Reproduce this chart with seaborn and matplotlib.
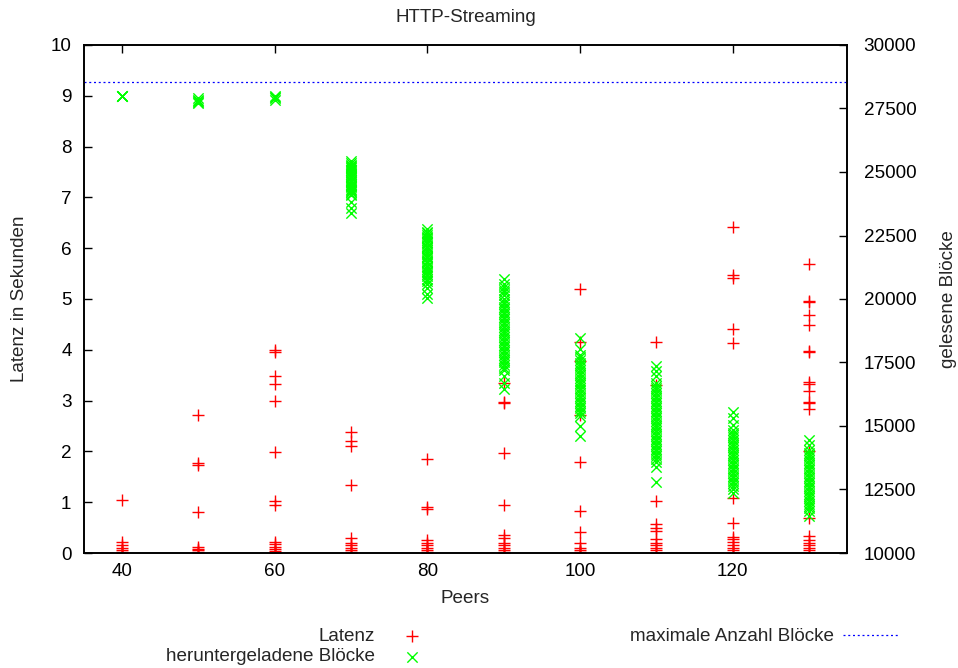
import matplotlib
matplotlib.use("Agg")
import matplotlib.pyplot as plt
import seaborn as sns
import pandas as pd

# ---------------- data ----------------
peers = [40, 50, 60, 70, 80, 90, 100, 110, 120, 130]
x_ticks = [40, 60, 80, 100, 120]

latenz = [
    [1.05, 0.22, 0.15, 0.10, 0.05, 0.02, 0.0],
    [2.72, 1.78, 1.74, 0.80, 0.12, 0.08, 0.05, 0.02, 0.0],
    [4.00, 3.95, 3.48, 3.33, 2.99, 1.99, 1.02, 0.95, 0.22, 0.18, 0.12, 0.08, 0.03, 0.0],
    [2.38, 2.21, 2.11, 1.34, 0.30, 0.20, 0.15, 0.10, 0.06, 0.02, 0.0],
    [1.86, 0.90, 0.87, 0.25, 0.20, 0.15, 0.10, 0.05, 0.02, 0.0],
    [3.35, 2.98, 2.95, 1.97, 0.95, 0.35, 0.30, 0.20, 0.15, 0.10, 0.05, 0.02, 0.0],
    [5.20, 4.16, 3.77, 2.72, 1.80, 0.83, 0.41, 0.20, 0.10, 0.05, 0.02, 0.0],
    [4.15, 3.30, 1.02, 0.57, 0.50, 0.44, 0.27, 0.20, 0.15, 0.10, 0.05, 0.0],
    [6.41, 5.47, 5.41, 4.41, 4.13, 1.08, 0.60, 0.32, 0.28, 0.22, 0.15, 0.10, 0.05, 0.0],
    [5.69, 4.97, 4.94, 4.69, 4.49, 3.98, 3.95, 3.36, 3.32, 3.18, 2.98, 2.96, 2.83,
     2.00, 0.68, 0.33, 0.25, 0.20, 0.15, 0.10, 0.05, 0.0],
]

bloecke = [
    [28000, 27990, 28010, 28000],
    [27900, 27850, 27800, 27750, 27720],
    [28000, 27950, 27900, 27850],
    [25430, 25340, 25290, 25240, 25210, 25150, 25090, 25060, 25000, 24940, 24910, 24850,
     24800, 24760, 24690, 24650, 24600, 24540, 24500, 24460, 24390, 24350, 24300, 24240,
     24210, 24150, 24100, 23800, 23580, 23400],
    [22750, 22640, 22600, 22510, 22440, 22400, 22310, 22250, 22190, 22100, 22060, 22000,
     21910, 21850, 21790, 21700, 21660, 21600, 21510, 21440, 21400, 21300, 21260, 21200,
     21110, 21050, 21000, 20900, 20800, 20700, 20610, 20450, 20200, 20050],
    [20800, 20600, 20490, 20350, 20260, 20150, 20010, 19900, 19810, 19700, 19590, 19500,
     19410, 19300, 19200, 19110, 19000, 18900, 18790, 18700, 18610, 18500, 18400, 18290,
     18200, 18100, 18010, 17900, 17800, 17690, 17600, 17500, 17410, 17300, 17200, 16950,
     16700, 16450],
    [18450, 18050, 17800, 17710, 17600, 17490, 17400, 17310, 17200, 17100, 17010, 16900,
     16790, 16700, 16610, 16500, 16400, 16290, 16200, 16110, 16000, 15900, 15790, 15700,
     15610, 15500, 15400, 15000, 14600],
    [17350, 17150, 16950, 16700, 16590, 16500, 16410, 16300, 16200, 16090, 16000, 15910,
     15800, 15700, 15590, 15500, 15410, 15300, 15200, 15090, 15000, 14910, 14800, 14700,
     14590, 14500, 14410, 14300, 14200, 14090, 14000, 13900, 13810, 13700, 13600, 13400,
     12800],
    [15550, 15300, 15050, 14850, 14740, 14650, 14560, 14450, 14340, 14250, 14160, 14050,
     13940, 13850, 13760, 13650, 13540, 13450, 13360, 13250, 13140, 13050, 12960, 12850,
     12740, 12650, 12500, 12350],
    [14450, 14250, 14050, 13940, 13850, 13760, 13650, 13540, 13450, 13360, 13250, 13140,
     13050, 12960, 12850, 12740, 12650, 12560, 12450, 12340, 12250, 12160, 12050, 11940,
     11850, 11760, 11650, 11450],
]

max_bloecke = 28530

title = "HTTP-Streaming"
xlabel = "Peers"
ylabel = "Latenz in Sekunden"
y2label = "gelesene Blöcke"
lab_lat = "Latenz"
lab_blk = "heruntergeladene Blöcke"
lab_max = "maximale Anzahl Blöcke"

# ---------------- tables ----------------
df_lat = pd.DataFrame(
    [(p, v) for p, vals in zip(peers, latenz) for v in vals], columns=["Peers", "Latenz"]
)
df_blk = pd.DataFrame(
    [(p, v) for p, vals in zip(peers, bloecke) for v in vals], columns=["Peers", "Bloecke"]
)

# ---------------- style ----------------
sns.set_style("white")
plt.rcParams["font.family"] = ["Liberation Sans", "DejaVu Sans"]
FS = 13.6
plt.rcParams["font.size"] = FS

W, H = 958, 668
fig = plt.figure(figsize=(W / 100, H / 100), dpi=100)
L, R, T, B = 84, 847, 45, 553
ax = fig.add_axes([L / W, 1 - B / H, (R - L) / W, (B - T) / H])
ax2 = ax.twinx()

sns.scatterplot(data=df_lat, x="Peers", y="Latenz", marker="+", color="#ff0000",
                s=75, linewidth=1.0, ax=ax, legend=False, label=lab_lat)
sns.scatterplot(data=df_blk, x="Peers", y="Bloecke", marker="x", color="#00ff00",
                s=55, linewidth=1.0, ax=ax2, legend=False, label=lab_blk)
line_max = ax2.axhline(max_bloecke, color="#0000ff", lw=0.9, linestyle=(0, (1.6, 2.2)),
                       label=lab_max)

ax.set_xlim(35, 135)
ax.set_ylim(0, 10)
ax2.set_ylim(10000, 30000)
ax.set_xticks(x_ticks)
ax.set_yticks(range(0, 11))
ax2.set_yticks(range(10000, 30001, 2500))

for a in (ax, ax2):
    for s in a.spines.values():
        s.set_visible(True)
        s.set_color("black")
        s.set_linewidth(1.2)

ax.tick_params(axis="x", direction="in", length=6, width=1, top=True, bottom=True,
               labelsize=FS, pad=7, colors="black")
ax.tick_params(axis="y", direction="in", length=6, width=1, left=True, right=False,
               labelsize=FS, pad=9, colors="black")
ax2.tick_params(axis="y", direction="in", length=6, width=1, right=True, left=False,
                labelsize=FS, pad=12, colors="black")

ax.set_xlabel(xlabel, fontsize=FS)
ax.set_ylabel(ylabel, fontsize=FS)
ax2.set_ylabel(y2label, fontsize=FS)
ax.xaxis.set_label_coords(0.5, (B - 590) / (B - T))
ax.yaxis.set_label_coords((28 - L) / (R - L), 0.5)
ax2.yaxis.set_label_coords((940 - L) / (R - L), 0.5)

fig.text((L + R) / 2 / W, 1 - 17 / H, title, ha="center", va="center", fontsize=FS)

h1 = ax.collections[0]
h2 = ax2.collections[0]
fig.legend([h1, h2, line_max], [lab_lat, lab_blk, lab_max], ncol=2, markerfirst=False,
           frameon=False, loc="upper left", bbox_to_anchor=(166 / W, 1 - 628 / H),
           fontsize=FS, handlelength=3.0, handletextpad=0.45, columnspacing=10.05,
           labelspacing=0.16, borderpad=0, borderaxespad=0, scatterpoints=1)

fig.savefig("out.png", dpi=100)
